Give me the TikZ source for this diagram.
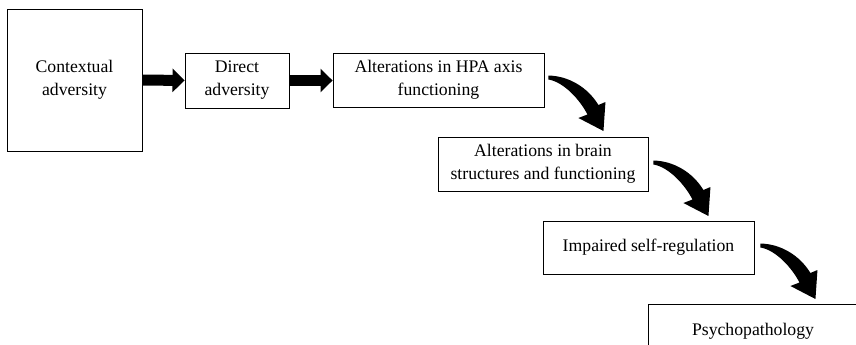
\documentclass[tikz,border=0pt]{standalone}
\usepackage{fontspec}
\setmainfont{Liberation Serif}
\usetikzlibrary{arrows.meta,calc}
\tikzset{
  box/.style={draw=black, line width=0.9pt, align=center, inner sep=0pt,
    font=\fontsize{17.7}{23}\selectfont},
  bigarrow/.style={line width=11pt, -{Triangle[length=12pt,width=23pt]}},
  curvearrow/.pic={
    \fill[black] (0,-1.5) .. controls (20,-1) and (39,10) .. (50,28)
      -- (57,25) -- (55,54) -- (30,41) -- (39,37.5)
      .. controls (31,22) and (15,5) .. (0,2.5) -- cycle;
  }
}
\begin{document}
\begin{tikzpicture}[x=1pt,y=-1pt]
\useasboundingbox (0,0) rectangle (856,345);
\clip (0,0) rectangle (856,345);
\fill[white] (0,0) rectangle (856,345);
\node[box, minimum width=135pt, minimum height=142pt] (ctx) at (74.5,80) {Contextual\\adversity};
\node[box, minimum width=104pt, minimum height=55pt] (dir) at (237,80.5) {Direct\\adversity};
\node[box, minimum width=211pt, minimum height=54pt] (hpa) at (438.5,80) {Alterations in HPA axis\\functioning};
\node[box, minimum width=210pt, minimum height=54pt] (brain) at (543,164) {Alterations in brain\\structures and functioning};
\node[box, minimum width=211pt, minimum height=53pt] (self) at (648.5,247.5) {Impaired self-regulation};
\node[box, minimum width=210pt, minimum height=54pt] (psy) at (753,331) {Psychopathology};
\draw[bigarrow] (ctx.east) -- (dir.west);
\draw[bigarrow] (dir.east) -- (dir.east -| hpa.west);
\coordinate (s1) at ($(hpa.east)+(4,-3)$);
\coordinate (s2) at ($(brain.east)+(5,-2)$);
\coordinate (s3) at ($(self.east)+(6,-2.5)$);
\pic at (s1) {curvearrow};
\pic at (s2) {curvearrow};
\pic at (s3) {curvearrow};
\end{tikzpicture}
\end{document}
